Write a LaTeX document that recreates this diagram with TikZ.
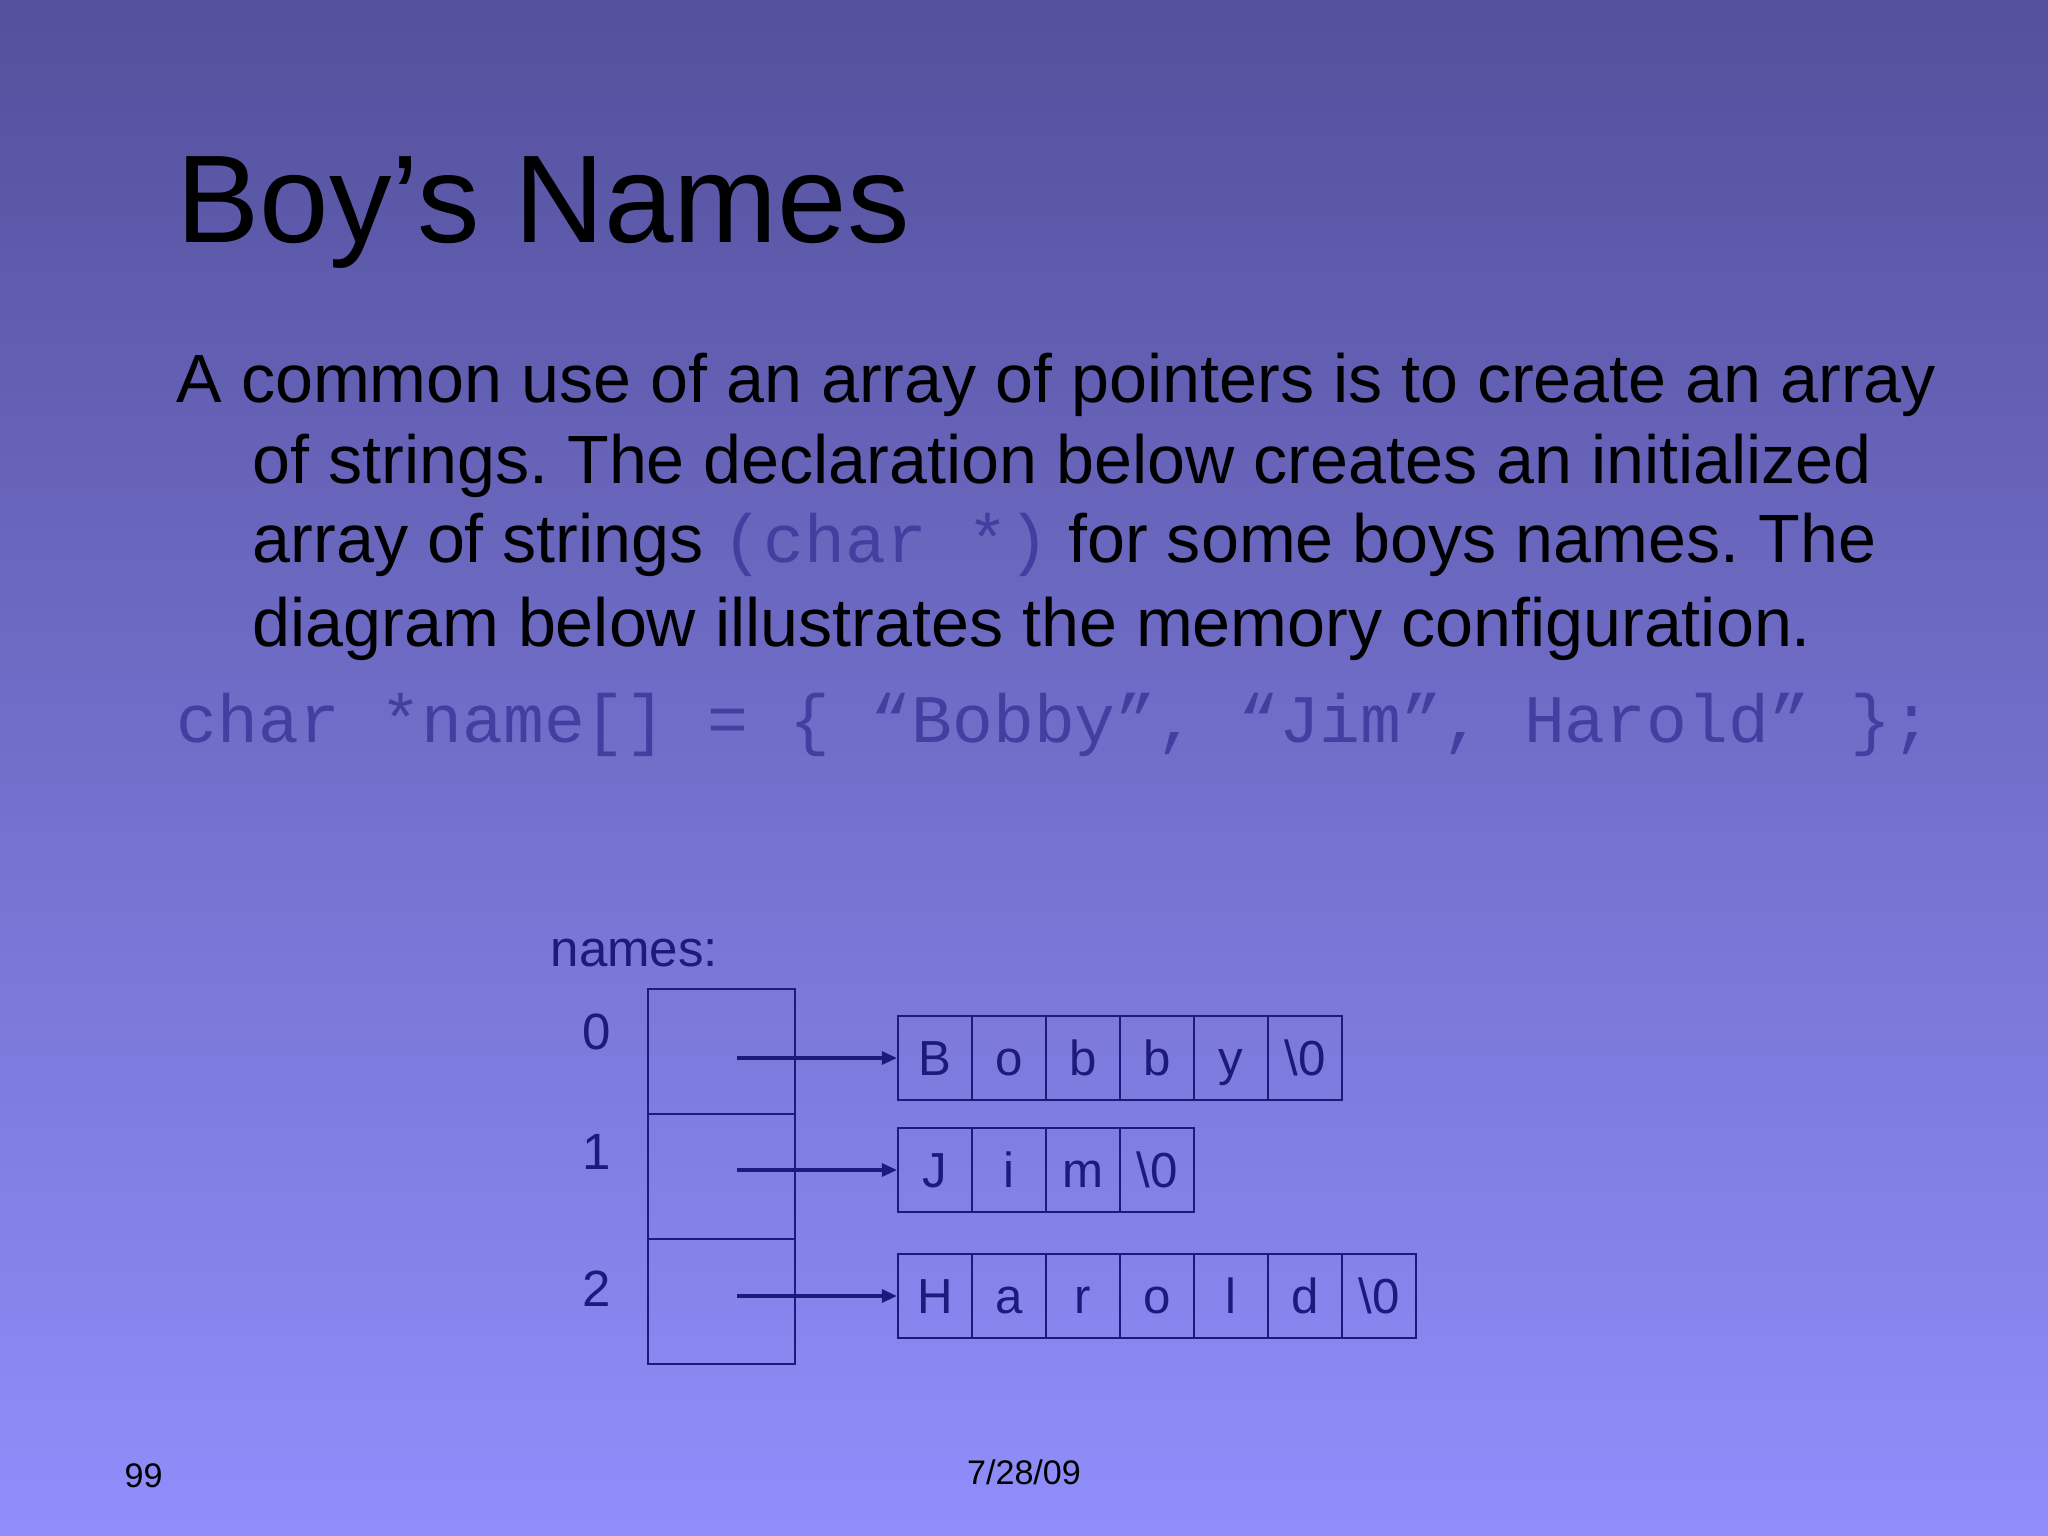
\documentclass[tikz,border=0pt]{standalone}
\usepackage{fontspec}
\setmainfont{Liberation Sans}
\setmonofont{Liberation Mono}
\usetikzlibrary{arrows.meta, positioning}
\frenchspacing

\definecolor{slidetop}{RGB}{84,80,156}
\definecolor{slidebot}{RGB}{144,142,251}
\definecolor{ink}{RGB}{28,26,122}
\definecolor{codeink}{RGB}{66,63,160}
\newcommand{\nulchar}{\textbackslash 0}

\tikzset{
  ptrcell/.style={draw=ink, line width=0.6pt, minimum width=1.47cm, minimum height=1.25cm, inner sep=0pt},
  chrcell/.style={draw=ink, line width=0.6pt, minimum width=0.74cm, minimum height=0.84cm, inner sep=0pt,
    text=ink, text height=10pt, text depth=0pt, font=\fontsize{14}{17}\selectfont},
  ptr/.style={draw=ink, line width=0.9pt, -{Triangle[length=0.15cm,width=0.13cm]}},
  bodyline/.style={anchor=base west, inner sep=0pt, font=\fontsize{19.4}{24}\selectfont},
}

\begin{document}
\begin{tikzpicture}[x=0.01cm, y=-0.01cm]
  % Background
  \shade[top color=slidetop, bottom color=slidebot] (0,0) rectangle (2048,1536);
  % Title and text
  \node[anchor=base west, inner sep=0pt, font=\fontsize{35.5}{42}\selectfont] (title) at (176,242) {Boy’s Names};
  \node[bodyline] (line1) at (176,402) {A common use of an array of pointers is to create an array};
  \node[bodyline] (line2) at (252,483) {of strings. The declaration below creates an initialized};
  \node[bodyline] (line3) at (252,562) {array of strings {\color{codeink}\ttfamily\fontsize{19.35}{24}\selectfont(char *)} for some boys names. The};
  \node[bodyline] (line4) at (252,646) {diagram below illustrates the memory configuration.};
  \node[anchor=base west, inner sep=0pt, text=codeink, font=\ttfamily\fontsize{19.35}{24}\selectfont] (code) at (176,742)
    {char *name[] = \{ “Bobby”, “Jim”, Harold” \};};
  % Array of pointers
  \node[anchor=base west, inner sep=0pt, text=ink, font=\fontsize{14.5}{17}\selectfont] (names) at (550,966) {names:};
  \node[ptrcell] (p0) at (721.5,1051.5) {};
  \node[ptrcell] (p1) at (721.5,1176.5) {};
  \node[ptrcell] (p2) at (721.5,1301.5) {};
  \node[text=ink, font=\fontsize{14.5}{17}\selectfont] (i0) at (597,1032) {0};
  \node[text=ink, font=\fontsize{14.5}{17}\selectfont] (i1) at (597,1152) {1};
  \node[text=ink, font=\fontsize{14.5}{17}\selectfont] (i2) at (597,1289) {2};
  % Strings
  \foreach \c [count=\i] in {B,o,b,b,y,\nulchar}
    \node[chrcell] (b\i) at ({861+74*\i},1058) {\c};
  \foreach \c [count=\i] in {J,i,m,\nulchar}
    \node[chrcell] (j\i) at ({861+74*\i},1170) {\c};
  \foreach \c [count=\i] in {H,a,r,o,l,d,\nulchar}
    \node[chrcell] (h\i) at ({861+74*\i},1296) {\c};
  % Pointers
  \coordinate (s0) at (737,1058);
  \coordinate (s1) at (737,1170);
  \coordinate (s2) at (737,1296);
  \draw[ptr] (s0) -- (b1.west);
  \draw[ptr] (s1) -- (j1.west);
  \draw[ptr] (s2) -- (h1.west);
  % Footer
  \node[anchor=west, inner sep=0pt, font=\fontsize{9.7}{12}\selectfont] (page) at (124,1476) {99};
  \node[inner sep=0pt, font=\fontsize{9.7}{12}\selectfont] (date) at (1024,1472) {7/28/09};
\end{tikzpicture}
\end{document}
